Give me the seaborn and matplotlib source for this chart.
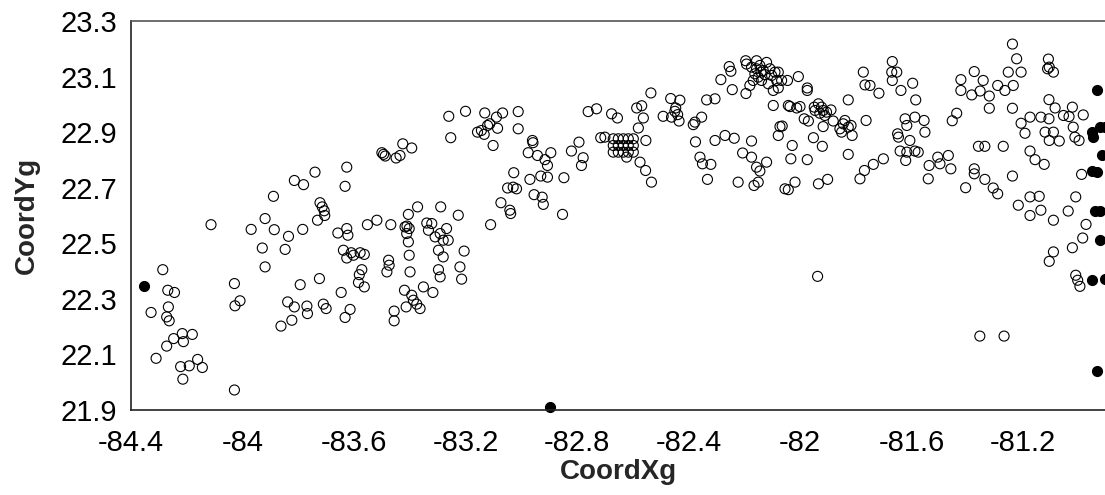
import pandas as pd
import matplotlib.pyplot as plt
import seaborn as sns

zona_oeste = [
    (-84.286, 22.405), (-84.328, 22.251), (-84.268, 22.331), (-84.244, 22.323), (-84.266, 22.271),
    (-84.272, 22.235), (-84.263, 22.221), (-84.310, 22.086), (-84.272, 22.130), (-84.247, 22.157),
    (-84.216, 22.175), (-84.212, 22.146), (-84.180, 22.172), (-84.222, 22.056), (-84.191, 22.059),
    (-84.214, 22.011), (-84.161, 22.082), (-84.144, 22.053), (-84.113, 22.567), (-84.029, 22.355),
    (-84.027, 22.275), (-84.009, 22.293), (-84.029, 21.972), (-83.969, 22.550), (-83.919, 22.589),
    (-83.889, 22.669), (-83.886, 22.549), (-83.929, 22.483), (-83.919, 22.415),
]
zona_83_7 = [
    (-83.814, 22.726), (-83.781, 22.711), (-83.740, 22.756), (-83.835, 22.525), (-83.784, 22.550),
    (-83.847, 22.478), (-83.722, 22.646), (-83.714, 22.631), (-83.707, 22.617), (-83.705, 22.600),
    (-83.731, 22.583), (-83.793, 22.351), (-83.724, 22.373), (-83.838, 22.289), (-83.814, 22.271),
    (-83.769, 22.274), (-83.767, 22.247), (-83.710, 22.281), (-83.700, 22.265), (-83.823, 22.223),
    (-83.862, 22.202), (-83.626, 22.774), (-83.632, 22.705), (-83.658, 22.537), (-83.626, 22.553),
    (-83.622, 22.529), (-83.638, 22.475), (-83.626, 22.447), (-83.610, 22.466), (-83.602, 22.457),
    (-83.578, 22.466), (-83.563, 22.460), (-83.646, 22.323), (-83.614, 22.262), (-83.632, 22.233),
    (-83.581, 22.387), (-83.572, 22.405), (-83.584, 22.359), (-83.563, 22.343), (-83.552, 22.567),
    (-83.518, 22.583), (-83.468, 22.567),
]
zona_83_4 = [
    (-83.494, 22.820), (-83.500, 22.826), (-83.488, 22.814), (-83.449, 22.807), (-83.435, 22.816),
    (-83.425, 22.858), (-83.393, 22.843), (-83.405, 22.604), (-83.372, 22.631), (-83.289, 22.631),
    (-83.417, 22.559), (-83.402, 22.553), (-83.410, 22.562), (-83.411, 22.535), (-83.405, 22.505),
    (-83.402, 22.457), (-83.399, 22.397), (-83.476, 22.439), (-83.474, 22.421), (-83.482, 22.397),
    (-83.419, 22.331), (-83.393, 22.313), (-83.387, 22.295), (-83.375, 22.281), (-83.363, 22.265),
    (-83.351, 22.343), (-83.317, 22.323), (-83.413, 22.271), (-83.456, 22.256), (-83.456, 22.221),
    (-83.339, 22.573), (-83.321, 22.571), (-83.333, 22.547), (-83.309, 22.523), (-83.291, 22.535),
    (-83.297, 22.475), (-83.297, 22.405), (-83.291, 22.379), (-83.268, 22.553), (-83.280, 22.511),
    (-83.262, 22.511), (-83.280, 22.451), (-83.226, 22.601), (-83.205, 22.472), (-83.220, 22.415),
    (-83.214, 22.371),
]
zona_83_0 = [
    (-83.260, 22.957), (-83.200, 22.975), (-83.253, 22.880), (-83.131, 22.969), (-83.089, 22.954),
    (-83.067, 22.969), (-83.011, 22.974), (-83.157, 22.900), (-83.143, 22.906), (-83.133, 22.892),
    (-83.121, 22.924), (-83.113, 22.930), (-83.085, 22.914), (-83.101, 22.852), (-83.011, 22.912),
    (-82.960, 22.870), (-82.958, 22.862), (-82.975, 22.826), (-82.942, 22.816), (-82.894, 22.826),
    (-82.915, 22.801), (-82.906, 22.780), (-83.027, 22.754), (-82.969, 22.730), (-82.930, 22.742),
    (-82.906, 22.738), (-82.847, 22.736), (-82.820, 22.832), (-82.793, 22.864), (-82.784, 22.780),
    (-82.778, 22.808), (-83.049, 22.699), (-83.029, 22.702), (-83.017, 22.696), (-83.073, 22.646),
    (-83.041, 22.619), (-83.038, 22.607), (-83.110, 22.567), (-82.954, 22.675), (-82.925, 22.666),
    (-82.921, 22.640), (-82.852, 22.604), (-82.760, 22.974), (-82.730, 22.984), (-82.715, 22.880),
    (-82.676, 22.966),
]
zona_82_6 = [
    (-82.700, 22.882), (-82.655, 22.951),
    (-82.670, 22.876), (-82.652, 22.876), (-82.634, 22.876), (-82.616, 22.876), (-82.598, 22.876),
    (-82.670, 22.852), (-82.652, 22.852), (-82.634, 22.852), (-82.616, 22.852), (-82.598, 22.852),
    (-82.670, 22.828), (-82.652, 22.828), (-82.634, 22.828), (-82.616, 22.828), (-82.598, 22.828),
    (-82.622, 22.810), (-82.586, 22.987), (-82.568, 22.995), (-82.562, 22.951), (-82.535, 23.041),
    (-82.580, 22.915), (-82.553, 22.870), (-82.574, 22.792), (-82.554, 22.762), (-82.533, 22.720),
    (-82.491, 22.957), (-82.464, 23.021), (-82.431, 23.015), (-82.446, 22.987), (-82.449, 22.975),
    (-82.439, 22.963), (-82.461, 22.954), (-82.434, 22.940), (-82.383, 22.927), (-82.377, 22.936),
    (-82.353, 22.954), (-82.335, 23.016), (-82.305, 23.020), (-82.375, 22.865), (-82.359, 22.810),
    (-82.350, 22.786), (-82.320, 22.784), (-82.332, 22.730), (-82.305, 22.870), (-82.269, 22.888),
    (-82.236, 22.878),
]
zona_82_2 = [
    (-82.174, 22.868), (-82.206, 22.825), (-82.174, 22.810), (-82.156, 22.774), (-82.144, 22.760),
    (-82.120, 22.792), (-82.150, 22.720), (-82.165, 22.708), (-82.222, 22.720), (-82.284, 23.089),
    (-82.254, 23.136), (-82.248, 23.119), (-82.243, 23.053), (-82.195, 23.157), (-82.192, 23.145),
    (-82.194, 23.039), (-82.174, 23.134), (-82.156, 23.157), (-82.144, 23.140), (-82.132, 23.122),
    (-82.120, 23.151), (-82.162, 23.110), (-82.150, 23.098), (-82.138, 23.086), (-82.126, 23.107),
    (-82.108, 23.128), (-82.102, 23.104), (-82.090, 23.116), (-82.096, 23.050), (-82.180, 23.068),
    (-82.168, 23.086), (-82.114, 23.074), (-82.140, 23.116), (-82.156, 23.128), (-82.096, 22.996),
    (-82.072, 22.920), (-82.078, 22.888), (-82.054, 22.696),
]
zona_81_9 = [
    (-82.078, 23.116), (-82.084, 23.086), (-82.066, 23.086), (-82.045, 23.086), (-82.078, 23.059),
    (-82.006, 23.100), (-81.974, 23.059), (-81.974, 23.050), (-82.042, 22.996), (-82.036, 22.992),
    (-82.000, 22.992), (-82.012, 22.987), (-81.985, 22.948), (-81.970, 22.940), (-82.064, 22.922),
    (-82.028, 22.852), (-82.033, 22.804), (-81.974, 22.801), (-81.952, 22.880), (-81.920, 22.849),
    (-82.018, 22.720), (-82.042, 22.693), (-81.934, 22.714), (-81.901, 22.730), (-81.949, 22.990),
    (-81.934, 23.002), (-81.923, 22.990), (-81.917, 22.978), (-81.929, 22.968), (-81.905, 22.972),
    (-81.889, 22.980), (-81.911, 22.960), (-81.946, 22.978), (-81.917, 22.920), (-81.881, 22.940),
    (-81.857, 22.912), (-81.845, 22.930), (-81.839, 22.942), (-81.827, 22.918), (-81.817, 22.924),
    (-81.813, 22.888), (-81.851, 22.900), (-81.827, 23.016), (-81.827, 22.820), (-81.937, 22.381),
]
zona_81_6 = [
    (-81.773, 23.116), (-81.767, 23.070), (-81.749, 23.068), (-81.717, 23.040), (-81.763, 22.942),
    (-81.669, 23.154), (-81.671, 23.116), (-81.653, 23.116), (-81.669, 23.086), (-81.638, 23.050),
    (-81.596, 23.076), (-81.585, 23.016), (-81.785, 22.732), (-81.769, 22.762), (-81.737, 22.784),
    (-81.701, 22.804), (-81.623, 22.948), (-81.617, 22.924), (-81.588, 22.954), (-81.555, 22.942),
    (-81.552, 22.900), (-81.650, 22.894), (-81.647, 22.882), (-81.606, 22.870), (-81.641, 22.832),
    (-81.617, 22.828), (-81.588, 22.832), (-81.576, 22.828), (-81.621, 22.798), (-81.537, 22.780),
    (-81.540, 22.732), (-81.506, 22.810), (-81.498, 22.786), (-81.468, 22.816), (-81.459, 22.768),
]
zona_este = [
    (-81.454, 22.941), (-81.438, 22.968), (-81.423, 23.089), (-81.423, 23.050), (-81.375, 23.118),
    (-81.384, 23.034), (-81.354, 23.048), (-81.343, 23.086), (-81.321, 23.030), (-81.321, 22.986),
    (-81.291, 23.068), (-81.265, 23.050), (-81.253, 23.116), (-81.235, 23.068), (-81.207, 23.116),
    (-81.223, 23.164), (-81.238, 23.217), (-81.238, 22.986), (-81.360, 22.849), (-81.337, 22.849),
    (-81.271, 22.849), (-81.375, 22.768), (-81.375, 22.750), (-81.406, 22.700), (-81.337, 22.730),
    (-81.307, 22.699), (-81.291, 22.678), (-81.238, 22.742), (-81.207, 22.932), (-81.193, 22.896),
    (-81.175, 22.954), (-81.175, 22.832), (-81.157, 22.801), (-81.124, 22.784), (-81.136, 22.954),
    (-81.107, 23.017), (-81.107, 22.948), (-81.085, 22.987), (-81.121, 22.900), (-81.091, 22.900),
    (-81.106, 22.870), (-81.070, 22.868), (-81.109, 23.163), (-81.112, 23.128), (-81.091, 23.116),
    (-81.106, 23.134), (-81.055, 22.960), (-81.035, 22.956), (-81.023, 22.990), (-80.984, 22.962),
    (-81.020, 22.918), (-81.014, 22.882), (-80.999, 22.870), (-80.990, 22.748), (-81.217, 22.637),
    (-81.175, 22.667), (-81.142, 22.669), (-81.175, 22.600), (-81.136, 22.619), (-81.091, 22.583),
    (-81.038, 22.616), (-81.011, 22.667), (-80.974, 22.568), (-80.986, 22.519), (-81.023, 22.484),
    (-81.091, 22.469), (-81.106, 22.435), (-81.011, 22.385), (-81.004, 22.367), (-80.996, 22.345),
    (-81.355, 22.166), (-81.268, 22.166),
]

# Puntos rellenos (negros)
rellenos_x = [-84.354, -82.898, -80.936, -80.954, -80.948, -80.924, -80.905, -80.918,
              -80.954, -80.936, -80.942, -80.924, -80.924, -80.954, -80.905, -80.936]
rellenos_y = [22.346, 21.912, 23.050, 22.900, 22.882, 22.918, 22.918, 22.816,
              22.760, 22.756, 22.616, 22.616, 22.511, 22.367, 22.373, 22.040]

x_ticks = [-84.4, -84.0, -83.6, -83.2, -82.8, -82.4, -82.0, -81.6, -81.2]
y_ticks = [21.9, 22.1, 22.3, 22.5, 22.7, 22.9, 23.1, 23.3]

abiertos = zona_oeste + zona_83_7 + zona_83_4 + zona_83_0 + zona_82_6 + zona_82_2 + zona_81_9 + zona_81_6 + zona_este
df_abiertos = pd.DataFrame(abiertos, columns=['CoordXg', 'CoordYg'])
df_rellenos = pd.DataFrame({'CoordXg': rellenos_x, 'CoordYg': rellenos_y})

sns.set_style('white')
plt.rcParams['font.family'] = ['Liberation Sans', 'DejaVu Sans']
plt.rcParams['axes.unicode_minus'] = False

fig = plt.figure(figsize=(11.05, 4.95), dpi=100)
ax = fig.add_axes([131 / 1105, 85 / 495, 974 / 1105, 389 / 495])

sns.scatterplot(data=df_abiertos, x='CoordXg', y='CoordYg', ax=ax, marker='o', s=52,
                facecolor='none', edgecolor='black', linewidth=0.8)
sns.scatterplot(data=df_rellenos, x='CoordXg', y='CoordYg', ax=ax, marker='o', s=52,
                color='black', edgecolor='black', linewidth=0.8, clip_on=False)

ax.set_xlim(-84.4, -80.906)
ax.set_ylim(21.9, 23.3)
ax.set_xticks(x_ticks)
ax.set_xticklabels([f'{v:g}' for v in x_ticks])
ax.set_yticks(y_ticks)
ax.set_yticklabels([f'{v:.1f}' for v in y_ticks])
ax.tick_params(axis='x', direction='in', length=7.5, width=1, labelsize=21, pad=14, colors='black')
ax.tick_params(axis='y', direction='in', length=9, width=1, labelsize=21, pad=10, colors='black')

ax.set_xlabel('CoordXg', fontsize=20, fontweight='bold', labelpad=1)
ax.set_ylabel('CoordYg', fontsize=20, fontweight='bold')
ax.yaxis.set_label_coords(-0.0934, 0.5)

for lado in ['left', 'bottom']:
    ax.spines[lado].set_color('#222222')
    ax.spines[lado].set_linewidth(1.2)
ax.spines['top'].set_color('#555555')
ax.spines['top'].set_linewidth(1.2)
ax.spines['right'].set_visible(False)
ax.grid(False)

plt.savefig('out.png', dpi=100)
